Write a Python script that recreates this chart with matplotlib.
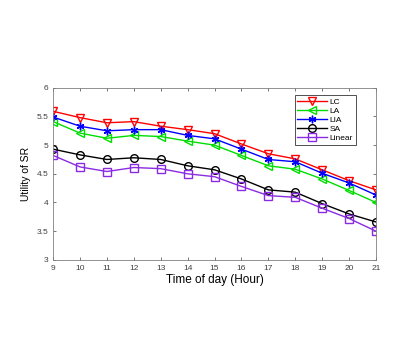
import numpy as np
import matplotlib
matplotlib.use('Agg')
import matplotlib.pyplot as plt

plt.rcParams['font.family'] = ['Liberation Sans', 'DejaVu Sans']

hours = [9, 10, 11, 12, 13, 14, 15, 16, 17, 18, 19, 20, 21]
lc = [5.59, 5.48, 5.39, 5.41, 5.33, 5.27, 5.20, 5.02, 4.85, 4.76, 4.57, 4.38, 4.22]
la = [5.41, 5.21, 5.12, 5.17, 5.15, 5.07, 5.00, 4.82, 4.64, 4.58, 4.41, 4.21, 4.00]
lia = [5.49, 5.33, 5.25, 5.27, 5.27, 5.17, 5.11, 4.93, 4.75, 4.71, 4.51, 4.34, 4.13]
sa = [4.93, 4.83, 4.75, 4.78, 4.75, 4.64, 4.57, 4.41, 4.22, 4.18, 3.98, 3.80, 3.66]
linear = [4.82, 4.62, 4.54, 4.61, 4.59, 4.50, 4.45, 4.28, 4.12, 4.09, 3.90, 3.72, 3.50]

series = [
    ('LC', lc, 'red', 'v'),
    ('LA', la, '#00dd00', '<'),
    ('LIA', lia, 'blue', (6, 2, 0)),
    ('SA', sa, 'black', 'o'),
    ('Linear', linear, '#8a2be2', 's'),
]

fig = plt.figure(figsize=(4.15, 3.54), dpi=100)
ax = fig.add_axes([0.128, 0.266, 0.778, 0.486])

for name, vals, col, mk in series:
    ax.plot(hours, vals, color=col, marker=mk, markersize=5.5, markerfacecolor='none',
            markeredgecolor=col, markeredgewidth=1, linewidth=1, label=name)

ax.set_xlim(9, 21)
ax.set_ylim(3, 6)
ax.set_xticks(hours)
ax.set_yticks(np.arange(3, 6.01, 0.5))
ax.set_yticklabels(['3', '3.5', '4', '4.5', '5', '5.5', '6'])
ax.tick_params(direction='in', top=True, right=True, labelsize=6, length=2.5,
               width=0.5, colors='#404040', pad=3.5)
for sp in ax.spines.values():
    sp.set_color('#808080')
    sp.set_linewidth(0.6)

ax.set_xlabel('Time of day (Hour)', fontsize=8.5, labelpad=2)
ax.set_ylabel('Utility of SR', fontsize=7.5, labelpad=4)

leg = ax.legend(loc='upper right', fontsize=6, frameon=True, fancybox=False,
                edgecolor='black', borderpad=0.3, labelspacing=0.15,
                handlelength=3.6, handletextpad=0.3, bbox_to_anchor=(0.95, 0.98))
leg.get_frame().set_linewidth(0.6)

fig.savefig('out.png', dpi=100)
